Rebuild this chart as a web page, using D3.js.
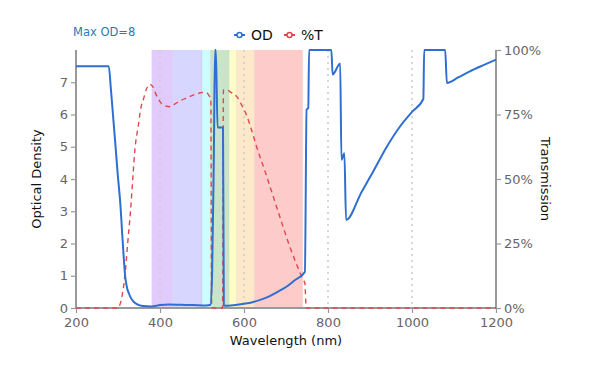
<!DOCTYPE html>
<html>
<head>
<meta charset="utf-8">
<script src="https://cdn.jsdelivr.net/npm/d3@7"></script>
<style>
  html, body { margin: 0; padding: 0; background: #fff; }
  svg { display: block; font-family: "DejaVu Sans", Verdana, sans-serif; }
</style>
</head>
<body>
<svg id="chart" width="592" height="382"></svg>
<script>
// ---- Data ----
const odWavelength = [200, 278, 283, 288, 293, 299, 306, 310, 314, 317, 319, 322, 326, 330, 335, 340, 350, 360, 380, 400, 420, 450, 480, 510, 520, 524, 528, 531, 533, 537, 550, 552, 560, 580, 600, 620, 640, 660, 680, 700, 720, 745, 749, 753, 755, 808, 811, 829, 832, 839, 843, 880, 908, 940, 971, 1000, 1027, 1029, 1079, 1083, 1110, 1138, 1170, 1200];
const odValues     = [7.5, 7.5, 6.8, 6.0, 5.2, 4.2, 3.15, 2.3, 1.5, 1.0, 0.8, 0.6, 0.45, 0.33, 0.23, 0.16, 0.09, 0.06, 0.05, 0.09, 0.11, 0.1, 0.09, 0.08, 0.1, 1.0, 4.5, 8, 8, 5.6, 5.6, 0.08, 0.07, 0.09, 0.13, 0.18, 0.26, 0.36, 0.5, 0.65, 0.85, 1.12, 6.15, 6.2, 8, 8, 7.24, 7.58, 4.6, 4.8, 2.73, 3.6, 4.24, 5.0, 5.62, 6.08, 6.48, 8, 8, 6.98, 7.15, 7.34, 7.53, 7.7];

const tWavelength = [200, 300, 305, 310, 317, 323, 330, 336, 340, 348, 355, 360, 368, 376, 382, 390, 400, 410, 424, 435, 448, 465, 487, 500, 511, 518, 521, 523, 549, 551, 560, 567, 583, 595, 606, 618, 630, 650, 670, 690, 709, 725, 741, 745, 748, 1200];
const tValues     = [0, 0, 1.5, 5, 13.4, 25, 38, 52, 61, 70.3, 78, 80.6, 85, 86.7, 86, 83, 80, 78.5, 78, 79, 80.3, 81.5, 83, 83.5, 83.4, 82, 81.3, 0, 0, 84.5, 84.5, 83.8, 81.9, 78.5, 74.8, 69, 62.5, 53, 43, 33, 23.8, 17, 10.9, 9.6, 0, 0];

const bandNames  = ["violet", "blue", "cyan", "green", "yellow", "orange", "red"];
const bandStart  = [380, 430, 500, 520, 565, 582, 625];
const bandEnd    = [430, 500, 520, 565, 582, 625, 740];
const bandColors = ["#e1cafc", "#d6d6fe", "#cbfdfe", "#c9e4c9", "#fdfdc8", "#fde8c9", "#fecbcb"];

const xTicks = [200, 400, 600, 800, 1000, 1200];
const gridTicks = [400, 600, 800, 1000];
const odTicks = [0, 1, 2, 3, 4, 5, 6, 7];
const tTicks = [0, 25, 50, 75, 100];

// ---- Layout ----
const svg = d3.select("#chart");
const mLeft = 76, mRight = 496, mTop = 50, mBottom = 308;

const x = d3.scaleLinear().domain([200, 1200]).range([mLeft, mRight]);
const yOD = d3.scaleLinear().domain([0, 8]).range([mBottom, mTop]);
const yT = d3.scaleLinear().domain([0, 100]).range([mBottom, mTop]);

// Bands
svg.append("g").selectAll("rect")
  .data(bandNames.map((n, i) => ({ n, s: bandStart[i], e: bandEnd[i], c: bandColors[i] })))
  .join("rect")
  .attr("x", d => x(d.s))
  .attr("y", mTop)
  .attr("width", d => x(d.e) - x(d.s))
  .attr("height", mBottom - mTop)
  .attr("fill", d => d.c);

// Band borders (subtle)
svg.append("g").selectAll("line")
  .data(bandStart.slice(1))
  .join("line")
  .attr("x1", d => x(d)).attr("x2", d => x(d))
  .attr("y1", mTop).attr("y2", mBottom)
  .attr("stroke", "#000").attr("stroke-opacity", 0.04).attr("stroke-width", 1);

// Grid lines dotted
svg.append("g").selectAll("line")
  .data(gridTicks)
  .join("line")
  .attr("x1", d => x(d)).attr("x2", d => x(d))
  .attr("y1", mTop).attr("y2", mBottom)
  .attr("stroke", "#cccccc").attr("stroke-width", 1.5)
  .attr("stroke-dasharray", "2,4");

// Axes
const axisColor = "#999";
const tickColor = "#666";

const gx = svg.append("g").attr("transform", `translate(0,${mBottom})`)
  .call(d3.axisBottom(x).tickValues(xTicks).tickFormat(d3.format("d")).tickSize(5).tickPadding(3));
const gl = svg.append("g").attr("transform", `translate(${mLeft},0)`)
  .call(d3.axisLeft(yOD).tickValues(odTicks).tickSize(5).tickPadding(3));
const gr = svg.append("g").attr("transform", `translate(${mRight},0)`)
  .call(d3.axisRight(yT).tickValues(tTicks).tickFormat(d => d + "%").tickSize(5).tickPadding(3));

[gx, gl, gr].forEach(g => {
  g.select(".domain").remove();
  g.selectAll(".tick line").attr("stroke", axisColor).attr("stroke-width", 1.2);
  g.selectAll(".tick text").attr("fill", tickColor).attr("font-size", 13)
    .attr("font-family", "DejaVu Sans, Verdana, sans-serif");
});
gx.selectAll(".tick text").attr("dy", "0.85em");

// axis lines
svg.append("line").attr("x1", mLeft).attr("x2", mLeft).attr("y1", mTop).attr("y2", mBottom)
  .attr("stroke", axisColor).attr("stroke-width", 2);
svg.append("line").attr("x1", mRight).attr("x2", mRight).attr("y1", mTop).attr("y2", mBottom)
  .attr("stroke", axisColor).attr("stroke-width", 2);
svg.append("line").attr("x1", mLeft).attr("x2", mRight).attr("y1", mBottom).attr("y2", mBottom)
  .attr("stroke", axisColor).attr("stroke-width", 2);

// Curves
const odData = odWavelength.map((w, i) => [w, odValues[i]]);
const tData = tWavelength.map((w, i) => [w, tValues[i]]);

const lineOD = d3.line().x(d => x(d[0])).y(d => yOD(d[1])).curve(d3.curveMonotoneX);
const lineT = d3.line().x(d => x(d[0])).y(d => yT(d[1])).curve(d3.curveMonotoneX);

svg.append("path").datum(tData).attr("d", lineT)
  .attr("fill", "none").attr("stroke", "#e0474c").attr("stroke-width", 1.4)
  .attr("stroke-dasharray", "5,4");

svg.append("path").datum(odData).attr("d", lineOD)
  .attr("fill", "none").attr("stroke", "#2f6fd1").attr("stroke-width", 2)
  .attr("stroke-linejoin", "round");

// Titles
svg.append("text").attr("x", (mLeft + mRight) / 2).attr("y", 345)
  .attr("text-anchor", "middle").attr("font-size", 13).attr("fill", "#111")
  .text("Wavelength (nm)");

svg.append("text").attr("transform", `translate(41,${(mTop + mBottom) / 2}) rotate(-90)`)
  .attr("text-anchor", "middle").attr("font-size", 13).attr("fill", "#111")
  .text("Optical Density");

svg.append("text").attr("transform", `translate(541,${(mTop + mBottom) / 2}) rotate(90)`)
  .attr("text-anchor", "middle").attr("font-size", 13).attr("fill", "#111")
  .text("Transmission");

svg.append("text").attr("x", 73).attr("y", 36)
  .attr("font-size", 11.5).attr("fill", "#2a7ab5")
  .text("Max OD=8");

// Legend
const legendItems = [
  { label: "OD", color: "#2f6fd1", x: 234 },
  { label: "%T", color: "#e0474c", x: 284 }
];
const lg = svg.append("g").selectAll("g").data(legendItems).join("g")
  .attr("transform", d => `translate(${d.x},35)`);
lg.append("line").attr("x1", 0).attr("x2", 11).attr("y1", 0).attr("y2", 0)
  .attr("stroke", d => d.color).attr("stroke-width", 2);
lg.append("circle").attr("cx", 5.5).attr("cy", 0).attr("r", 2.5)
  .attr("fill", "#fff").attr("stroke", d => d.color).attr("stroke-width", 1.5);
lg.append("text").attr("x", 17).attr("y", 0).attr("dy", "0.35em")
  .attr("font-size", 14).attr("fill", "#111").text(d => d.label);
</script>
</body>
</html>
